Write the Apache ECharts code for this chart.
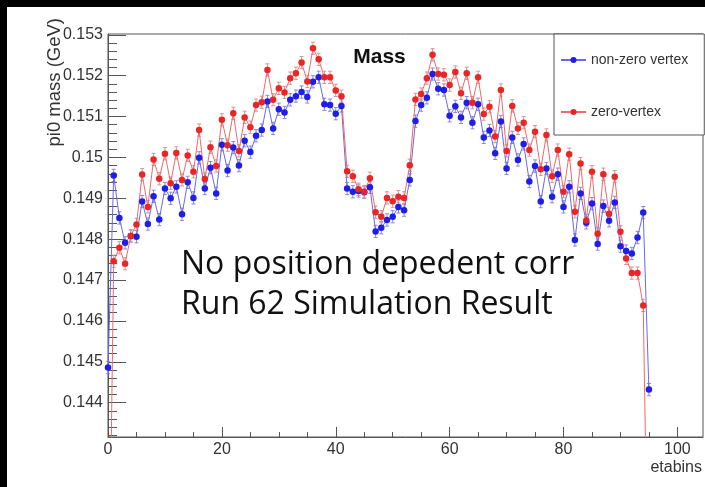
<!DOCTYPE html>
<html>
<head>
<meta charset="utf-8">
<script src="https://cdn.jsdelivr.net/npm/echarts@6/dist/echarts.min.js"></script>
<style>
  html, body { margin: 0; padding: 0; background: #000; width: 705px; height: 487px; overflow: hidden; }
  #chart { position: absolute; left: 7px; top: 7px; width: 698px; height: 480px; background: #fff; }
</style>
</head>
<body>
<div id="chart"></div>
<script>
// pi0 mass per eta bin (GeV); index in each array is the eta bin number
const nonZeroVertex = [
  0.14486, 0.14956, 0.14852, 0.14791, 0.14808, 0.14806, 0.14892, 0.14837, 0.14905, 0.14848,
  0.14924, 0.14900, 0.14928, 0.14861, 0.14939, 0.14901, 0.14999, 0.14924, 0.14975, 0.14912,
  0.15031, 0.14968, 0.15024, 0.14980, 0.15041, 0.15013, 0.15053, 0.15067, 0.15137, 0.15071,
  0.15118, 0.15110, 0.15141, 0.15150, 0.15160, 0.15148, 0.15185, 0.15196, 0.15130, 0.15128,
  0.15107, 0.15126, 0.14924, 0.14916, 0.14918, 0.14915, 0.14927, 0.14819, 0.14828, 0.14847,
  0.14855, 0.14879, 0.14871, 0.14945, 0.15089, 0.15128, 0.15146, 0.15204, 0.15168, 0.15165,
  0.15102, 0.15125, 0.15098, 0.15134, 0.15085, 0.15130, 0.15049, 0.15066, 0.15010, 0.15088,
  0.14973, 0.15049, 0.14994, 0.15033, 0.14941, 0.14979, 0.14892, 0.14973, 0.14904, 0.14959,
  0.14879, 0.14928, 0.14798, 0.14912, 0.14840, 0.14887, 0.14788, 0.14881, 0.14845, 0.14890,
  0.14783, 0.14771, 0.14765, 0.14804, 0.14865, 0.14432
];
const zeroVertex = [
  0.13700, 0.14746, 0.14779, 0.14740, 0.14808, 0.14836, 0.14958, 0.14879, 0.14995, 0.14948,
  0.15009, 0.14937, 0.15011, 0.14945, 0.15005, 0.14965, 0.15067, 0.14947, 0.15025, 0.14979,
  0.15092, 0.15030, 0.15108, 0.15016, 0.15098, 0.15074, 0.15128, 0.15135, 0.15214, 0.15141,
  0.15169, 0.15159, 0.15194, 0.15206, 0.15232, 0.15186, 0.15267, 0.15240, 0.15196, 0.15196,
  0.15164, 0.15150, 0.14966, 0.14954, 0.14922, 0.14916, 0.14949, 0.14866, 0.14855, 0.14901,
  0.14893, 0.14904, 0.14901, 0.14981, 0.15142, 0.15155, 0.15194, 0.15251, 0.15204, 0.15202,
  0.15177, 0.15209, 0.15157, 0.15206, 0.15134, 0.15196, 0.15106, 0.15124, 0.15051, 0.15165,
  0.15016, 0.15126, 0.15071, 0.15085, 0.15018, 0.15063, 0.14971, 0.15055, 0.14954, 0.15018,
  0.14916, 0.15008, 0.14867, 0.14985, 0.14846, 0.14965, 0.14813, 0.14959, 0.14862, 0.14953,
  0.14818, 0.14753, 0.14717, 0.14717, 0.14638, 0.13800
];
const massError = 0.00015;

const seriesNames = ['non-zero vertex', 'zero-vertex'];
const xTickValues = [0, 20, 40, 60, 80, 100];
const yTickValues = [0.144, 0.145, 0.146, 0.147, 0.148, 0.149, 0.150, 0.151, 0.152, 0.153];
const xRange = [0, 104.5];
const yRange = [0.14316, 0.15302];

// minor ticks: 5 per major x step, 5 per major y step
const xMinorTicks = [];
for (let k = 0; k <= 20; k++) xMinorTicks.push(k * 5);
const yMinorTicks = [];
for (let k = 716; k <= 765; k++) yMinorTicks.push(+(k * 0.0002).toFixed(4));

const FONT = 'Liberation Sans, Arial, Helvetica, sans-serif';
const AXIS_COLOR = '#555';
const LABEL_COLOR = '#333';

const styles = [
  { marker: '#1e1ee8', line: '#6a6ae6', err: '#8888dd' },
  { marker: '#e82626', line: '#ec6a6a', err: '#e09090' }
];

function points(values) {
  return values.map((v, i) => [i, v]);
}

function errorSeries(values, st) {
  return {
    type: 'custom',
    xAxisIndex: 0,
    yAxisIndex: 0,
    silent: true,
    z: 2,
    data: values.map((v, i) => [i, v, massError]),
    renderItem(params, api) {
      const x = api.value(0), y = api.value(1), e = api.value(2);
      if (y < yRange[0] || y > yRange[1]) return null;
      const lo = api.coord([x, y - e]);
      const hi = api.coord([x, y + e]);
      const cx = lo[0];
      const s = { stroke: st.err, lineWidth: 1 };
      return {
        type: 'group',
        children: [
          { type: 'line', shape: { x1: cx, y1: lo[1], x2: cx, y2: hi[1] }, style: s },
          { type: 'line', shape: { x1: cx - 2, y1: lo[1], x2: cx + 2, y2: lo[1] }, style: s },
          { type: 'line', shape: { x1: cx - 2, y1: hi[1], x2: cx + 2, y2: hi[1] }, style: s }
        ]
      };
    }
  };
}

function lineSeries(name, values, st) {
  return {
    name: name,
    type: 'line',
    xAxisIndex: 0,
    yAxisIndex: 0,
    data: points(values),
    symbol: 'circle',
    symbolSize: 6.5,
    showSymbol: true,
    clip: true,
    z: 3,
    itemStyle: { color: st.marker },
    lineStyle: { color: st.line, width: 1 }
  };
}

const chart = echarts.init(document.getElementById('chart'), null, { renderer: 'canvas' });

chart.setOption({
  animation: false,
  backgroundColor: '#fff',
  grid: {
    left: 101, top: 27, right: 2, bottom: 50,
    show: true, borderColor: AXIS_COLOR, borderWidth: 1, backgroundColor: 'transparent'
  },
  xAxis: [
    {
      type: 'value', position: 'bottom', min: xRange[0], max: xRange[1],
      axisLine: { show: true, onZero: false, lineStyle: { color: AXIS_COLOR } },
      axisTick: { show: true, inside: true, length: 10, customValues: xTickValues, lineStyle: { color: AXIS_COLOR } },
      axisLabel: { show: true, customValues: xTickValues, margin: 5, fontSize: 16, color: LABEL_COLOR, fontFamily: FONT },
      splitLine: { show: false }
    },
    {
      type: 'value', position: 'bottom', offset: 0, min: xRange[0], max: xRange[1],
      axisLine: { show: false, onZero: false },
      axisTick: { show: true, inside: true, length: 5, customValues: xMinorTicks, lineStyle: { color: AXIS_COLOR } },
      axisLabel: { show: false },
      splitLine: { show: false }
    }
  ],
  yAxis: [
    {
      type: 'value', position: 'left', min: yRange[0], max: yRange[1],
      axisLine: { show: true, onZero: false, lineStyle: { color: AXIS_COLOR } },
      axisTick: { show: true, inside: true, length: 18, customValues: yTickValues, lineStyle: { color: AXIS_COLOR } },
      axisLabel: {
        show: true, customValues: yTickValues, margin: 5, fontSize: 16, color: LABEL_COLOR, fontFamily: FONT,
        formatter: v => String(+(+v).toFixed(3))
      },
      splitLine: { show: false }
    },
    {
      type: 'value', position: 'left', offset: 0, min: yRange[0], max: yRange[1],
      axisLine: { show: false, onZero: false },
      axisTick: { show: true, inside: true, length: 9, customValues: yMinorTicks, lineStyle: { color: AXIS_COLOR } },
      axisLabel: { show: false },
      splitLine: { show: false }
    }
  ],
  legend: {
    orient: 'vertical',
    left: 547, top: 27,
    padding: [19, 16, 16, 6],
    itemGap: 38,
    itemWidth: 25,
    itemHeight: 7.5,
    borderColor: AXIS_COLOR,
    borderWidth: 1,
    backgroundColor: '#fff',
    textStyle: { fontSize: 14, color: LABEL_COLOR, fontFamily: FONT },
    data: seriesNames
  },
  series: [
    errorSeries(nonZeroVertex, styles[0]),
    lineSeries(seriesNames[0], nonZeroVertex, styles[0]),
    errorSeries(zeroVertex, styles[1]),
    lineSeries(seriesNames[1], zeroVertex, styles[1])
  ],
  graphic: [
    {
      type: 'text', x: 372.5, y: 50.5, z: 10,
      style: { text: 'Mass', font: 'bold 21px ' + FONT, fill: '#111', textAlign: 'center', textVerticalAlign: 'middle' }
    },
    {
      type: 'text', x: 48, y: 11, rotation: Math.PI / 2, z: 10,
      style: { text: 'pi0 mass (GeV)', font: '18.5px ' + FONT, fill: LABEL_COLOR, textAlign: 'right', textVerticalAlign: 'middle' }
    },
    {
      type: 'text', x: 695, y: 461, z: 10,
      style: { text: 'etabins', font: '16px ' + FONT, fill: LABEL_COLOR, textAlign: 'right', textVerticalAlign: 'middle' }
    },
    {
      type: 'text', x: 174, y: 257.5, z: 10,
      style: { text: 'No position depedent corr', font: '32px "Open Sans", sans-serif', fill: '#111', textAlign: 'left', textVerticalAlign: 'middle' }
    },
    {
      type: 'text', x: 174, y: 298, z: 10,
      style: { text: 'Run 62 Simulation Result', font: '32px "Open Sans", sans-serif', fill: '#111', textAlign: 'left', textVerticalAlign: 'middle' }
    }
  ]
});
</script>
</body>
</html>
